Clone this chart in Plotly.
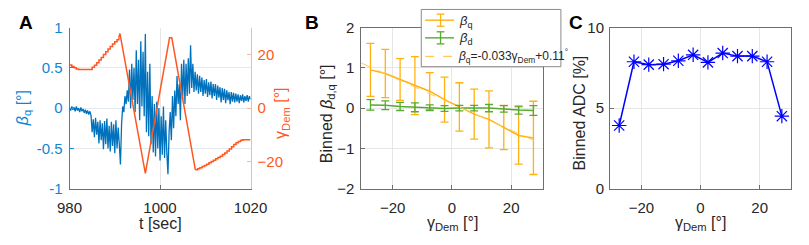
import plotly.graph_objects as go

W, H = 809, 245
def px(x):
    return x / W
def py(y):
    return 1 - y / H

# ---------------- Panel A data ----------------
t_start = 980.0
t_step = 0.25
beta_q_signal = [
    0.00, -0.03, 0.02, -0.02, 0.01, -0.04, 0.02, -0.03,
    0.00, -0.05, 0.01, -0.04, -0.01, -0.06, -0.02, -0.07,
    -0.03, -0.08, -0.04, -0.09, -0.30, -0.14, -0.36, -0.12,
    -0.33, -0.17, -0.44, -0.15, -0.40, -0.19, -0.51, -0.16,
    -0.45, -0.13, -0.50, -0.22, -0.54, -0.17, -0.47, -0.20,
    -0.56, -0.15, -0.50, -0.24, -0.45, -0.70, -0.20, 0.02,
    -0.05, 0.15, 0.05, 0.22, 0.08, 0.48, 0.00, 0.55,
    0.10, 0.50, -0.05, 0.72, 0.05, 0.60, -0.15, 0.83,
    0.02, 0.70, -0.10, 0.92, -0.30, 0.45, -0.35, 0.55,
    -0.45, 0.15, -0.55, 0.05, -0.60, 0.08, -0.50, 0.00,
    -0.65, -0.10, -0.58, 0.02, -0.62, -0.15, -0.55, -0.82,
    -0.30, -0.05, -0.40, 0.15, -0.25, 0.22, -0.10, 0.40,
    0.05, 0.30, -0.15, 0.55, 0.10, 0.60, 0.05, 0.55,
    0.15, 0.62, 0.18, 0.78, 0.25, 0.55, 0.20, 0.45,
    0.22, 0.42, 0.18, 0.40, 0.20, 0.38, 0.15, 0.35,
    0.18, 0.36, 0.14, 0.32, 0.16, 0.33, 0.12, 0.30,
    0.15, 0.30, 0.10, 0.28, 0.13, 0.26, 0.07, 0.25,
    0.10, 0.24, 0.06, 0.22, 0.10, 0.20, 0.05, 0.20,
    0.08, 0.19, 0.07, 0.18, 0.08, 0.17, 0.06, 0.16,
    0.09, 0.17, 0.07, 0.15, 0.09, 0.16, 0.08, 0.15,
    0.11,
]
t_signal = [t_start + t_step * i for i in range(len(beta_q_signal))]

gamma_stair1_t = [980.0, 980.5, 981.0, 981.5, 982.0, 985.0, 985.5, 986.0, 986.5,
                  987.0, 987.5, 988.0, 988.5, 989.0, 989.5, 990.0, 990.5, 990.9]
gamma_stair1_v = [16.1, 15.5, 15.0, 14.6, 14.4, 15.2, 16.0, 16.9, 17.9,
                  18.9, 20.0, 21.0, 22.0, 23.0, 23.9, 24.7, 25.5, 26.3]
gamma_ramp_t = [990.9, 991.15, 996.75, 1002.1, 1002.6, 1007.8]
gamma_ramp_v = [26.3, 27.8, -24.3, 26.2, 26.2, -23.0]
gamma_stair2_t = [1007.8, 1008.3, 1008.8, 1009.3, 1009.8, 1010.3, 1010.8, 1011.3,
                  1011.8, 1012.3, 1012.8, 1013.3, 1013.8, 1014.3, 1014.8, 1015.3,
                  1015.8, 1016.3, 1016.8, 1017.3, 1017.8, 1018.3, 1020.0]
gamma_stair2_v = [-23.0, -22.6, -22.2, -21.8, -21.4, -20.9, -20.4, -19.9,
                  -19.4, -18.9, -18.4, -17.9, -17.3, -16.7, -16.0, -15.2,
                  -14.4, -13.6, -12.9, -12.4, -12.0, -11.8, -11.8]

# ---------------- Panel B / C data ----------------
bin_centers = [-27.5, -22.5, -17.5, -12.5, -7.5, -2.5, 2.5, 7.5, 12.5, 17.5, 22.5, 27.5]
beta_q_binned = [0.95, 0.86, 0.71, 0.56, 0.42, 0.21, 0.03, -0.15, -0.28, -0.48, -0.68, -0.74]
beta_q_err = [0.66, 0.60, 0.52, 0.72, 0.46, 0.56, 0.60, 0.62, 0.71, 0.55, 0.71, 0.91]
beta_d_binned = [0.08, 0.07, 0.04, 0.02, 0.01, -0.01, 0.0, 0.0, 0.0, -0.02, -0.05, -0.06]
beta_d_err = [0.13, 0.11, 0.10, 0.11, 0.07, 0.07, 0.07, 0.07, 0.09, 0.08, 0.10, 0.12]
fit_slope = -0.033
fit_intercept = 0.11
fit_x = [-30.6, 30.6]
adc_binned = [3.92, 7.88, 7.70, 7.73, 7.94, 8.31, 7.84, 8.42, 8.23, 8.23, 7.88, 4.50]

x_ticks_A = [980, 1000, 1020]
y_ticks_A = [-1, -0.5, 0, 0.5, 1]
y_ticklabels_A = ["-1", "-0.5", "0", "0.5", "1"]
y2_ticks_A = [-20, 0, 20]
gamma_ticks = [-20, 0, 20]
y_ticks_B = [-2, -1, 0, 1, 2]
y_ticks_C = [0, 5, 10]

# ---------------- colours ----------------
BLUE = "#0072BD"
BLUE_TXT = "#0E86D4"
RED = "#FF5722"
RED_AX = "#FFB59B"
ORANGE = "#FFB10F"
ORANGE_FIT = "#FFC95A"
GREEN = "#56AA2F"
FRAME = "#6e6e6e"
GRID = "#e6e6e6"
TXT = "#262626"
FONT = "Liberation Sans, Arial, Helvetica, sans-serif"

fig = go.Figure()

# Panel A
fig.add_trace(go.Scatter(x=t_signal, y=beta_q_signal, mode="lines",
                         line=dict(color=BLUE, width=1.3), xaxis="x", yaxis="y",
                         showlegend=False))
for tt, vv, shp in [(gamma_stair1_t, gamma_stair1_v, "hv"),
                    (gamma_ramp_t, gamma_ramp_v, "linear"),
                    (gamma_stair2_t, gamma_stair2_v, "hv")]:
    fig.add_trace(go.Scatter(x=tt, y=vv, mode="lines", line=dict(color=RED, width=1.5, shape=shp),
                             xaxis="x", yaxis="y2", showlegend=False))

# Panel B
fig.add_trace(go.Scatter(x=bin_centers, y=beta_q_binned, mode="lines",
                         line=dict(color=ORANGE, width=1.5),
                         error_y=dict(type="data", array=beta_q_err, color=ORANGE, thickness=1.3, width=4),
                         xaxis="x2", yaxis="y3", showlegend=False))
fig.add_trace(go.Scatter(x=bin_centers, y=beta_d_binned, mode="lines",
                         line=dict(color=GREEN, width=1.5),
                         error_y=dict(type="data", array=beta_d_err, color=GREEN, thickness=1.3, width=4),
                         xaxis="x2", yaxis="y3", showlegend=False))
fit_y = [fit_slope * v + fit_intercept for v in fit_x]
fig.add_trace(go.Scatter(x=fit_x, y=fit_y, mode="lines",
                         line=dict(color=ORANGE_FIT, width=1, dash="dash"),
                         xaxis="x2", yaxis="y3", showlegend=False, cliponaxis=False))

# Panel C
fig.add_trace(go.Scatter(x=bin_centers, y=adc_binned, mode="lines+markers",
                         line=dict(color="#0000FF", width=1.5),
                         marker=dict(symbol="asterisk-open", size=12, color="#0000FF",
                                     line=dict(color="#0000FF", width=1.2)),
                         xaxis="x3", yaxis="y4", showlegend=False, cliponaxis=False))

tickfont = dict(family=FONT, size=15, color=TXT)
common = dict(showline=True, linecolor=FRAME, linewidth=1, ticks="inside", ticklen=4,
              tickcolor=FRAME, tickfont=tickfont, showgrid=True, gridcolor=GRID,
              gridwidth=1, zeroline=False, mirror=True)

yA = [py(193), py(20)]
fig.update_layout(
    width=W, height=H, margin=dict(l=0, r=0, t=0, b=0),
    paper_bgcolor="white", plot_bgcolor="white", showlegend=False,
    xaxis=dict(common, domain=[px(58.7), px(246.7)], range=[980, 1020], tickvals=x_ticks_A,
               anchor="y", mirror=False, ticklabelstandoff=5),
    yaxis=dict(common, domain=yA, range=[-1, 1], tickvals=y_ticks_A, ticktext=y_ticklabels_A,
               linecolor="#1A8FD6", tickcolor="#1A8FD6", mirror=False,
               tickfont=dict(family=FONT, size=15, color=BLUE_TXT), anchor="x",
               gridcolor="#e3e9ee", ticklabelstandoff=3),
    yaxis2=dict(common, overlaying="y", side="right", anchor="x", range=[-30, 30],
                tickvals=y2_ticks_A, linecolor=RED_AX, tickcolor=RED_AX, mirror=False,
                tickfont=dict(family=FONT, size=15, color=RED), showgrid=False,
                ticklabelstandoff=3),
    xaxis2=dict(common, domain=[px(361.7), px(550)], range=[-30.6, 30.6], tickvals=gamma_ticks,
                anchor="y3", ticklabelstandoff=5),
    yaxis3=dict(common, domain=yA, range=[-2, 2], tickvals=y_ticks_B, anchor="x2",
                ticklabelstandoff=3),
    xaxis3=dict(common, domain=[px(620), px(808)], range=[-30.6, 30.6], tickvals=gamma_ticks,
                anchor="y4", ticklabelstandoff=5),
    yaxis4=dict(common, domain=yA, range=[0, 10], tickvals=y_ticks_C, anchor="x3",
                ticklabelstandoff=2),
)

ann = []
def add_text(x, y, text, size=16, color=TXT, angle=0, bold=False, xanchor="center"):
    ann.append(dict(x=px(x), y=py(y), xref="paper", yref="paper", text=("<b>%s</b>" % text) if bold else text,
                    showarrow=False, textangle=angle, xanchor=xanchor, yanchor="middle",
                    font=dict(family=FONT, size=size, color=color)))

add_text(14, 14, "A", size=19, color="black", bold=True)
add_text(311, 14, "B", size=19, color="black", bold=True)
add_text(585, 14, "C", size=19, color="black", bold=True)
add_text(11, 107, "<i>β</i><sub>q</sub> [°]", size=16, color=BLUE_TXT, angle=-90)
add_text(279, 112, "γ<sub>Dem</sub> [°]", size=16, color=RED, angle=-90)
add_text(152.7, 230, "t [sec]", size=16)
add_text(326, 112, "Binned <i>β</i><sub>d,q</sub> [°]", size=16, angle=-90)
add_text(456, 230, "γ<sub>Dem</sub> [°]", size=16)
add_text(588, 112, "Binned ADC [%]", size=16, angle=-90)
add_text(714, 230, "γ<sub>Dem</sub> [°]", size=16)

# legend (drawn manually, MATLAB style with error-bar glyphs)
shapes = []
shapes.append(dict(type="rect", xref="paper", yref="paper", x0=px(424), x1=px(569), y0=py(62), y1=py(0.5),
                   fillcolor="white", line=dict(color="#8a8a8a", width=1), layer="above"))
def seg(x0, y0, x1, y1, color, width=1.4, dash="solid"):
    shapes.append(dict(type="line", xref="paper", yref="paper", x0=px(x0), y0=py(y0), x1=px(x1), y1=py(y1),
                       line=dict(color=color, width=width, dash=dash), layer="above"))
for yc, col in [(12, ORANGE), (31, GREEN)]:
    seg(428, yc, 458, yc, col)
    seg(444, yc - 6.5, 444, yc + 6.5, col, 1.3)
    seg(440, yc - 6.5, 448, yc - 6.5, col, 1.3)
    seg(440, yc + 6.5, 448, yc + 6.5, col, 1.3)
seg(428, 51, 458, 51, ORANGE_FIT, 1.2, "dash")
add_text(461, 13, "<i>β</i><sub>q</sub>", size=13, xanchor="left")
add_text(461, 32, "<i>β</i><sub>d</sub>", size=13, xanchor="left")
add_text(460, 51, "<i>β</i><sub>q</sub>=-0.033γ<sub>Dem</sub>+0.11<sup>°</sup>", size=12, xanchor="left")

fig.update_layout(annotations=ann, shapes=shapes)

fig.write_html("out.html", post_script="document.body.style.margin='0';",
               config={"displayModeBar": False})
